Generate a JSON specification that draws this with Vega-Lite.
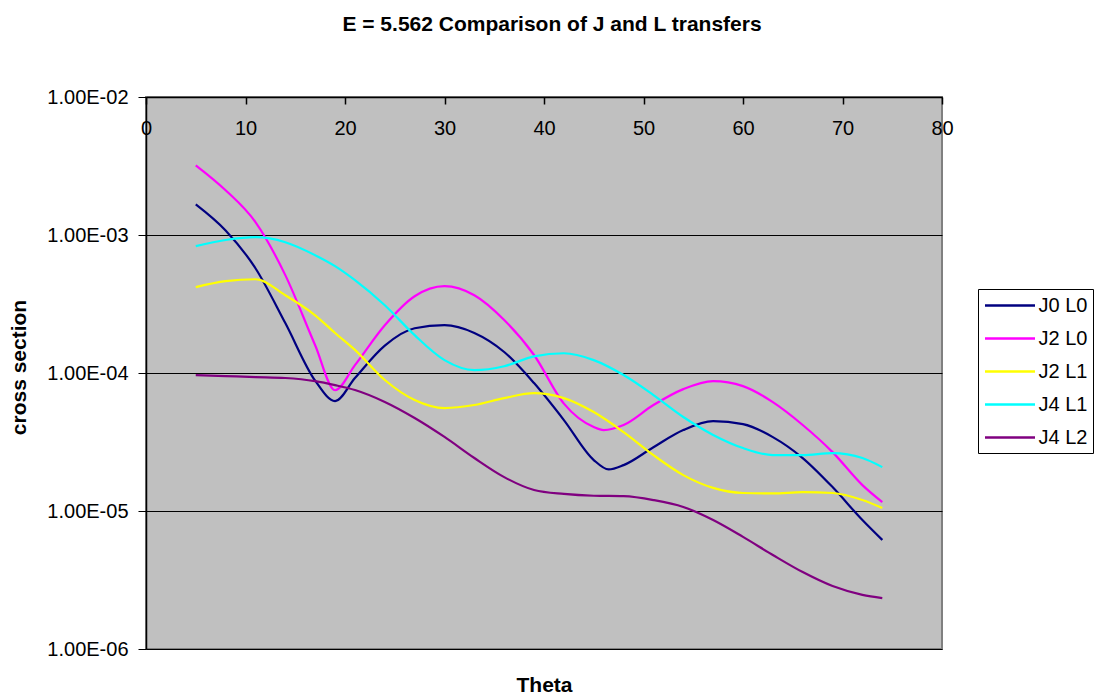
{
  "$schema": "https://vega.github.io/schema/vega-lite/v6.json",
  "autosize": {"type": "none"},
  "width": 796,
  "height": 552,
  "padding": {"left": 146, "top": 97, "right": 158, "bottom": 45},
  "background": "white",
  "config": {
    "font": "Liberation Sans",
    "view": {"fill": "#C0C0C0", "stroke": "#808080", "strokeWidth": 2}
  },
  "title": {
    "text": "E = 5.562 Comparison of J and L transfers",
    "fontSize": 21,
    "fontWeight": "bold",
    "font": "Liberation Sans",
    "color": "black",
    "anchor": "middle",
    "frame": "group",
    "offset": 52,
    "dx": 8
  },
  "data": {
    "values": [
      {"theta": 5, "series": "J0 L0", "cs": 1.67e-3},
      {"theta": 8, "series": "J0 L0", "cs": 1.08e-3},
      {"theta": 11, "series": "J0 L0", "cs": 5.74e-4},
      {"theta": 14, "series": "J0 L0", "cs": 2.3e-4},
      {"theta": 17, "series": "J0 L0", "cs": 8.8e-5},
      {"theta": 19, "series": "J0 L0", "cs": 6.26e-5},
      {"theta": 21, "series": "J0 L0", "cs": 9.2e-5},
      {"theta": 24, "series": "J0 L0", "cs": 1.58e-4},
      {"theta": 27, "series": "J0 L0", "cs": 2.11e-4},
      {"theta": 30, "series": "J0 L0", "cs": 2.22e-4},
      {"theta": 33, "series": "J0 L0", "cs": 1.95e-4},
      {"theta": 36, "series": "J0 L0", "cs": 1.42e-4},
      {"theta": 39, "series": "J0 L0", "cs": 8.45e-5},
      {"theta": 42, "series": "J0 L0", "cs": 4.56e-5},
      {"theta": 45, "series": "J0 L0", "cs": 2.34e-5},
      {"theta": 46.5, "series": "J0 L0", "cs": 2.0e-5},
      {"theta": 48, "series": "J0 L0", "cs": 2.15e-5},
      {"theta": 51, "series": "J0 L0", "cs": 2.9e-5},
      {"theta": 54, "series": "J0 L0", "cs": 3.86e-5},
      {"theta": 57, "series": "J0 L0", "cs": 4.48e-5},
      {"theta": 60, "series": "J0 L0", "cs": 4.26e-5},
      {"theta": 63, "series": "J0 L0", "cs": 3.43e-5},
      {"theta": 66, "series": "J0 L0", "cs": 2.42e-5},
      {"theta": 69, "series": "J0 L0", "cs": 1.49e-5},
      {"theta": 72, "series": "J0 L0", "cs": 8.6e-6},
      {"theta": 74, "series": "J0 L0", "cs": 6.17e-6},

      {"theta": 5, "series": "J2 L0", "cs": 3.2e-3},
      {"theta": 8, "series": "J2 L0", "cs": 2.11e-3},
      {"theta": 11, "series": "J2 L0", "cs": 1.24e-3},
      {"theta": 14, "series": "J2 L0", "cs": 5.12e-4},
      {"theta": 17, "series": "J2 L0", "cs": 1.59e-4},
      {"theta": 19, "series": "J2 L0", "cs": 7.5e-5},
      {"theta": 21, "series": "J2 L0", "cs": 1.14e-4},
      {"theta": 24, "series": "J2 L0", "cs": 2.22e-4},
      {"theta": 27, "series": "J2 L0", "cs": 3.6e-4},
      {"theta": 30, "series": "J2 L0", "cs": 4.26e-4},
      {"theta": 33, "series": "J2 L0", "cs": 3.66e-4},
      {"theta": 36, "series": "J2 L0", "cs": 2.42e-4},
      {"theta": 39, "series": "J2 L0", "cs": 1.35e-4},
      {"theta": 42, "series": "J2 L0", "cs": 6.0e-5},
      {"theta": 45, "series": "J2 L0", "cs": 4.06e-5},
      {"theta": 46, "series": "J2 L0", "cs": 3.86e-5},
      {"theta": 48, "series": "J2 L0", "cs": 4.2e-5},
      {"theta": 51, "series": "J2 L0", "cs": 5.86e-5},
      {"theta": 54, "series": "J2 L0", "cs": 7.64e-5},
      {"theta": 57, "series": "J2 L0", "cs": 8.73e-5},
      {"theta": 60, "series": "J2 L0", "cs": 8.03e-5},
      {"theta": 63, "series": "J2 L0", "cs": 6.15e-5},
      {"theta": 66, "series": "J2 L0", "cs": 4.2e-5},
      {"theta": 69, "series": "J2 L0", "cs": 2.67e-5},
      {"theta": 72, "series": "J2 L0", "cs": 1.54e-5},
      {"theta": 74, "series": "J2 L0", "cs": 1.16e-5},

      {"theta": 5, "series": "J2 L1", "cs": 4.19e-4},
      {"theta": 8, "series": "J2 L1", "cs": 4.63e-4},
      {"theta": 11, "series": "J2 L1", "cs": 4.78e-4},
      {"theta": 14, "series": "J2 L1", "cs": 3.66e-4},
      {"theta": 17, "series": "J2 L1", "cs": 2.62e-4},
      {"theta": 19, "series": "J2 L1", "cs": 1.95e-4},
      {"theta": 21, "series": "J2 L1", "cs": 1.47e-4},
      {"theta": 24, "series": "J2 L1", "cs": 8.9e-5},
      {"theta": 27, "series": "J2 L1", "cs": 6.37e-5},
      {"theta": 30, "series": "J2 L1", "cs": 5.57e-5},
      {"theta": 33, "series": "J2 L1", "cs": 5.86e-5},
      {"theta": 36, "series": "J2 L1", "cs": 6.58e-5},
      {"theta": 39, "series": "J2 L1", "cs": 7.15e-5},
      {"theta": 42, "series": "J2 L1", "cs": 6.58e-5},
      {"theta": 45, "series": "J2 L1", "cs": 5.21e-5},
      {"theta": 48, "series": "J2 L1", "cs": 3.73e-5},
      {"theta": 51, "series": "J2 L1", "cs": 2.54e-5},
      {"theta": 54, "series": "J2 L1", "cs": 1.82e-5},
      {"theta": 57, "series": "J2 L1", "cs": 1.47e-5},
      {"theta": 60, "series": "J2 L1", "cs": 1.35e-5},
      {"theta": 63, "series": "J2 L1", "cs": 1.34e-5},
      {"theta": 66, "series": "J2 L1", "cs": 1.37e-5},
      {"theta": 69, "series": "J2 L1", "cs": 1.35e-5},
      {"theta": 72, "series": "J2 L1", "cs": 1.2e-5},
      {"theta": 74, "series": "J2 L1", "cs": 1.05e-5},

      {"theta": 5, "series": "J4 L1", "cs": 8.3e-4},
      {"theta": 8, "series": "J4 L1", "cs": 9.2e-4},
      {"theta": 11, "series": "J4 L1", "cs": 9.64e-4},
      {"theta": 14, "series": "J4 L1", "cs": 8.87e-4},
      {"theta": 17, "series": "J4 L1", "cs": 7.14e-4},
      {"theta": 19, "series": "J4 L1", "cs": 5.95e-4},
      {"theta": 21, "series": "J4 L1", "cs": 4.71e-4},
      {"theta": 24, "series": "J4 L1", "cs": 3.1e-4},
      {"theta": 27, "series": "J4 L1", "cs": 1.88e-4},
      {"theta": 30, "series": "J4 L1", "cs": 1.24e-4},
      {"theta": 33, "series": "J4 L1", "cs": 1.05e-4},
      {"theta": 36, "series": "J4 L1", "cs": 1.12e-4},
      {"theta": 39, "series": "J4 L1", "cs": 1.32e-4},
      {"theta": 42, "series": "J4 L1", "cs": 1.39e-4},
      {"theta": 45, "series": "J4 L1", "cs": 1.24e-4},
      {"theta": 48, "series": "J4 L1", "cs": 9.66e-5},
      {"theta": 51, "series": "J4 L1", "cs": 6.92e-5},
      {"theta": 54, "series": "J4 L1", "cs": 4.8e-5},
      {"theta": 57, "series": "J4 L1", "cs": 3.56e-5},
      {"theta": 60, "series": "J4 L1", "cs": 2.86e-5},
      {"theta": 63, "series": "J4 L1", "cs": 2.54e-5},
      {"theta": 66, "series": "J4 L1", "cs": 2.54e-5},
      {"theta": 69, "series": "J4 L1", "cs": 2.63e-5},
      {"theta": 72, "series": "J4 L1", "cs": 2.42e-5},
      {"theta": 74, "series": "J4 L1", "cs": 2.08e-5},

      {"theta": 5, "series": "J4 L2", "cs": 9.66e-5},
      {"theta": 8, "series": "J4 L2", "cs": 9.5e-5},
      {"theta": 11, "series": "J4 L2", "cs": 9.34e-5},
      {"theta": 14, "series": "J4 L2", "cs": 9.2e-5},
      {"theta": 17, "series": "J4 L2", "cs": 8.73e-5},
      {"theta": 19, "series": "J4 L2", "cs": 8.17e-5},
      {"theta": 21, "series": "J4 L2", "cs": 7.53e-5},
      {"theta": 24, "series": "J4 L2", "cs": 6.17e-5},
      {"theta": 27, "series": "J4 L2", "cs": 4.72e-5},
      {"theta": 30, "series": "J4 L2", "cs": 3.44e-5},
      {"theta": 33, "series": "J4 L2", "cs": 2.42e-5},
      {"theta": 36, "series": "J4 L2", "cs": 1.76e-5},
      {"theta": 39, "series": "J4 L2", "cs": 1.42e-5},
      {"theta": 42, "series": "J4 L2", "cs": 1.33e-5},
      {"theta": 45, "series": "J4 L2", "cs": 1.29e-5},
      {"theta": 48, "series": "J4 L2", "cs": 1.28e-5},
      {"theta": 51, "series": "J4 L2", "cs": 1.2e-5},
      {"theta": 54, "series": "J4 L2", "cs": 1.07e-5},
      {"theta": 57, "series": "J4 L2", "cs": 8.6e-6},
      {"theta": 60, "series": "J4 L2", "cs": 6.49e-6},
      {"theta": 63, "series": "J4 L2", "cs": 4.8e-6},
      {"theta": 66, "series": "J4 L2", "cs": 3.61e-6},
      {"theta": 69, "series": "J4 L2", "cs": 2.86e-6},
      {"theta": 72, "series": "J4 L2", "cs": 2.47e-6},
      {"theta": 74, "series": "J4 L2", "cs": 2.34e-6}
    ]
  },
  "mark": {"type": "line", "interpolate": "monotone", "strokeWidth": 2.2, "clip": true},
  "encoding": {
    "x": {
      "field": "theta",
      "type": "quantitative",
      "scale": {"domain": [0, 80], "nice": false, "zero": false},
      "axis": {
        "orient": "top",
        "values": [0, 10, 20, 30, 40, 50, 60, 70, 80],
        "grid": false,
        "domainColor": "black",
        "domainWidth": 1.5,
        "tickColor": "black",
        "tickWidth": 1.5,
        "tickSize": -7,
        "labelPadding": -24,
        "labelBaseline": "middle",
        "labelFontSize": 20,
        "labelColor": "black",
        "labelFlush": false,
        "labelOverlap": false,
        "title": "Theta",
        "titleFontSize": 21,
        "titleFontWeight": "bold",
        "titleColor": "black",
        "titleX": 398,
        "titleY": 588,
        "titleBaseline": "middle",
        "titleAlign": "center"
      }
    },
    "y": {
      "field": "cs",
      "type": "quantitative",
      "scale": {"type": "log", "domain": [1e-6, 1e-2], "nice": false},
      "axis": {
        "values": [1e-6, 1e-5, 1e-4, 1e-3, 1e-2],
        "labelExpr": "'1.00E-0' + round(-log(datum.value)/LN10)",
        "grid": true,
        "gridColor": "black",
        "gridWidth": 1,
        "gridOpacity": 1,
        "domainColor": "black",
        "domainWidth": 1.5,
        "tickColor": "black",
        "tickSize": 8,
        "labelPadding": 10,
        "labelFontSize": 20,
        "labelColor": "black",
        "labelFlush": false,
        "labelOverlap": false,
        "title": "cross section",
        "titleFontSize": 21,
        "titleFontWeight": "bold",
        "titleColor": "black",
        "titleX": -127,
        "titleY": 270,
        "titleBaseline": "middle",
        "titleAlign": "center",
        "titleAngle": -90
      }
    },
    "color": {
      "field": "series",
      "type": "nominal",
      "scale": {
        "domain": ["J0 L0", "J2 L0", "J2 L1", "J4 L1", "J4 L2"],
        "range": ["#000080", "#FF00FF", "#FFFF00", "#00FFFF", "#800080"]
      },
      "legend": {
        "title": null,
        "orient": "none",
        "legendX": 832,
        "legendY": 192,
        "symbolType": "M-2.5,0H2.5",
        "symbolSize": 400,
        "symbolStrokeWidth": 2.5,
        "symbolOffset": 15.5,
        "labelOffset": 17,
        "labelFontSize": 20,
        "labelColor": "black",
        "strokeColor": "black",
        "fillColor": "white",
        "padding": 5,
        "rowPadding": 11
      }
    }
  }
}
